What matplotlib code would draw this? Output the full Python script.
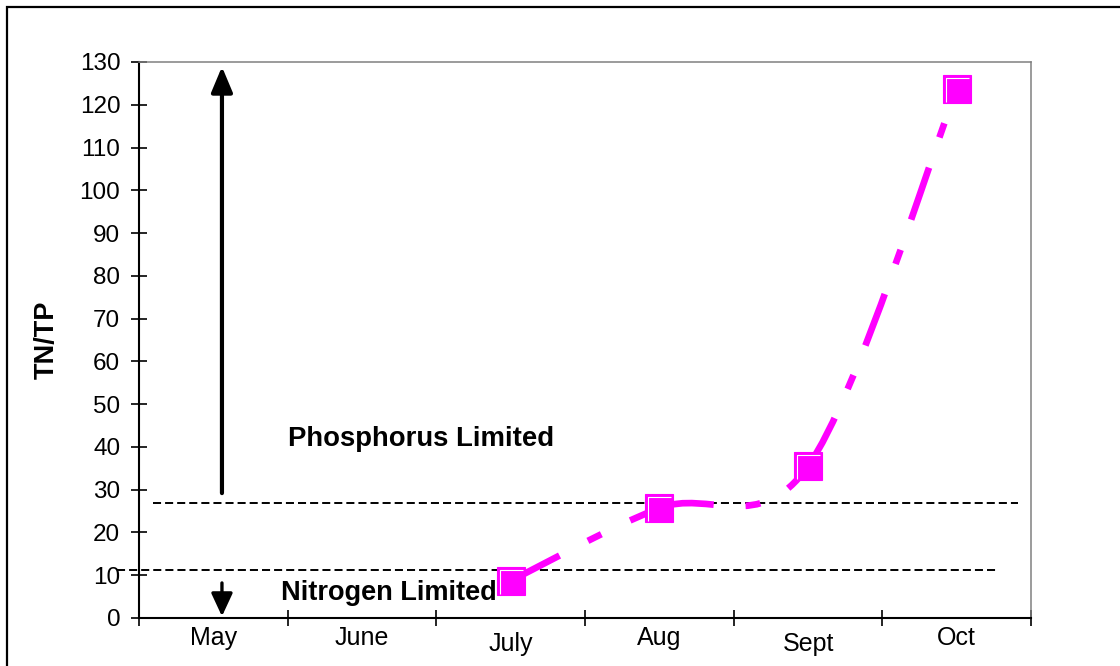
import numpy as np
import matplotlib
matplotlib.use('Agg')
import matplotlib.pyplot as plt
from matplotlib.path import Path
from matplotlib.patches import PathPatch, Rectangle
from matplotlib.ticker import MultipleLocator, FixedLocator

plt.rcParams['font.family'] = 'Liberation Sans'
plt.rcParams['lines.scale_dashes'] = False

months = ['May', 'June', 'July', 'Aug', 'Sept', 'Oct']
sample_months = ['July', 'Aug', 'Sept', 'Oct']
tn_tp = [8.7, 25.7, 35.5, 123.6]
p_limit = 26.8   # above: phosphorus limited
n_limit = 11.3   # below: nitrogen limited

MAGENTA = '#FF00FF'

fig = plt.figure(figsize=(11.2, 6.66), dpi=100)
ax = fig.add_axes([139 / 1120, 1 - 618 / 666, 892 / 1120, 556 / 666])
ax.set_xlim(0, len(months))
ax.set_ylim(0, 130)

# figure frame (runs off the right and bottom edges)
fig.patches.append(Rectangle((7 / 1120, -0.1), 1.2, 1.1 - 6.5 / 666,
                             transform=fig.transFigure, fill=False,
                             ec='black', lw=1.6))

# axes look: black left/bottom, grey top/right
for s in ['left', 'bottom']:
    ax.spines[s].set_color('black')
    ax.spines[s].set_linewidth(1.5)
for s in ['top', 'right']:
    ax.spines[s].set_color('#808080')
    ax.spines[s].set_linewidth(1.1)

ax.yaxis.set_major_locator(MultipleLocator(10))
ax.tick_params(axis='y', direction='inout', length=11, width=1.2,
               labelsize=17.5, pad=8)
centers = np.arange(len(months)) + 0.5
ax.xaxis.set_major_locator(FixedLocator(centers))
ax.set_xticklabels(months)
ax.xaxis.set_minor_locator(FixedLocator(np.arange(len(months) + 1)))
ax.tick_params(axis='x', which='major', length=0, labelsize=18, pad=5.5)
ax.tick_params(axis='x', which='minor', direction='inout', length=11.5,
               width=1.2)
for i, t in enumerate(ax.xaxis.get_major_ticks()):
    if months[i] in ('July', 'Sept'):
        t.set_pad(10)

# limit lines
ax.plot([0.094, 5.913], [p_limit, p_limit], color='black', lw=1.4,
        dashes=(5.8, 2.9), clip_on=False, zorder=2)
ax.plot([-0.15, 5.771], [n_limit, n_limit], color='black', lw=1.4,
        dashes=(5.8, 2.9), clip_on=False, zorder=2)

# arrows
ax.annotate('', xy=(0.558, 128.9), xytext=(0.558, 29.2),
            arrowprops=dict(arrowstyle='-|>,head_length=15.5,head_width=6.5',
                            mutation_scale=1, lw=3, color='black',
                            shrinkA=0, shrinkB=0))
ax.annotate('', xy=(0.558, 0.4), xytext=(0.558, 8.2),
            arrowprops=dict(arrowstyle='-|>,head_length=14,head_width=6.5',
                            mutation_scale=1, lw=2.4, color='black',
                            shrinkA=0, shrinkB=0))

ax.text(1.0, 40.2, 'Phosphorus Limited', fontsize=19.8, fontweight='bold',
        va='baseline', ha='left')
ax.text(0.955, 4.2, 'Nitrogen Limited', fontsize=19.5, fontweight='bold',
        va='baseline', ha='left', zorder=3)

fig.text(47 / 1120, 1 - 340 / 666, 'TN/TP', rotation=90, fontsize=19.5,
         fontweight='bold', ha='center', va='center')

# smoothed line, Excel-like (bezier through points, dash restarts per segment)
xs = np.array([months.index(m) + 0.5 for m in sample_months])
ys = np.array(tn_tp)
P = ax.transData.transform(np.column_stack([xs, ys]))
n = len(P)
inv = ax.transData.inverted()
for i in range(n - 1):
    p0 = P[max(i - 1, 0)]
    p1, p2 = P[i], P[i + 1]
    p3 = P[min(i + 2, n - 1)]
    c1 = p1 + (p2 - p0) / 6
    c2 = p2 - (p3 - p1) / 6
    verts = inv.transform(np.array([p1, c1, c2, p2]))
    seg = Path(verts, [Path.MOVETO, Path.CURVE4, Path.CURVE4, Path.CURVE4])
    ax.add_patch(PathPatch(seg, fill=False, ec=MAGENTA, lw=4.8,
                           linestyle=(0, (39.6, 23, 10.8, 23)),
                           capstyle='butt', zorder=4))

ax.plot(xs, ys, ls='none', marker='s', ms=19.5, mfc=MAGENTA, mec=MAGENTA,
        mew=0.8, zorder=5, clip_on=False)
bevel = Path([(-11.5, -13), (-11.5, 11.5), (12.5, 11.5)],
             [Path.MOVETO, Path.LINETO, Path.LINETO])
ax.plot(xs, ys, ls='none', marker=bevel, ms=18.7, mfc='none', mec='white',
        mew=0.8, zorder=6, clip_on=False)

plt.savefig('out.png', dpi=100)
plt.close()
